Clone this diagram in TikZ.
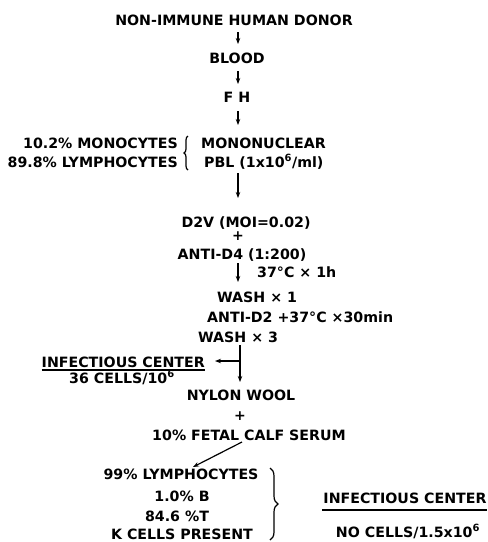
\documentclass[tikz,border=0pt]{standalone}
\usepackage{fontspec}
\setmainfont{DejaVu Sans}
\usetikzlibrary{arrows.meta,decorations.pathreplacing}
\tikzset{
  txt/.style={font=\fontsize{14.2}{16}\selectfont\bfseries, inner sep=0pt, anchor=base},
  pls/.style={font=\fontsize{14}{14}\selectfont\bfseries, inner sep=0pt, anchor=center},
  arr/.style={-{Stealth[length=6pt,width=4.5pt]}, line width=1.2pt},
  ln/.style={line width=1.2pt},
  brc/.style={decorate, line width=1.2pt, decoration={brace, amplitude=#1}}
}
\newcommand{\sxp}[1]{\textsuperscript{#1}}
\begin{document}
\begin{tikzpicture}[x=1pt,y=-1pt]
\useasboundingbox (0,0) rectangle (488,542);
\node[txt] (donor) at (234,25) {NON-IMMUNE HUMAN DONOR};
\node[txt] (blood) at (237,63) {BLOOD};
\node[txt] (fh) at (237,102) {F H};
\node[txt, anchor=base east] (mono) at (178,148) {10.2\% MONOCYTES};
\node[txt, anchor=base east] (lymph) at (178,167) {89.8\% LYMPHOCYTES};
\node[txt, anchor=base west] (mnuc) at (201,148) {MONONUCLEAR};
\node[txt, anchor=base west] (pbl) at (204,167) {PBL (1x10\sxp{6}/ml)};
\node[txt] (d2v) at (246,227) {D2V (MOI=0.02)};
\node[pls] (plus1) at (238,236.5) {+};
\node[txt] (antid4) at (242,259) {ANTI-D4 (1:200)};
\node[txt, anchor=base west] (inc) at (257,277) {37°C × 1h};
\node[txt, anchor=base west] (wash1) at (217,302) {WASH × 1};
\node[txt, anchor=base west] (antid2) at (207,322) {ANTI-D2 +37°C ×30min};
\node[txt, anchor=base west] (wash3) at (198,342) {WASH × 3};
\node[txt, anchor=base east] (ic1) at (205,367) {INFECTIOUS CENTER};
\node[txt] (cells1) at (122,383) {36 CELLS/10\sxp{6}};
\node[txt] (nylon) at (241,400) {NYLON WOOL};
\node[pls] (plus2) at (240,416) {+};
\node[txt] (fcs) at (249,440) {10\% FETAL CALF SERUM};
\node[txt] (l99) at (181,479) {99\% LYMPHOCYTES};
\node[txt] (b1) at (182,501) {1.0\% B};
\node[txt] (t84) at (177,521) {84.6 \%T};
\node[txt] (kc) at (182,539.5) {K CELLS PRESENT};
\node[txt] (ic2) at (405,503) {INFECTIOUS CENTER};
\node[txt] (cells2) at (408,537) {NO CELLS/1.5x10\sxp{6}};
% arrows
\coordinate (a1a) at (238,32); \coordinate (a1b) at (238,44);
\coordinate (a2a) at (238,71); \coordinate (a2b) at (238,84);
\coordinate (a3a) at (238,111); \coordinate (a3b) at (238,125);
\coordinate (a4a) at (238,173); \coordinate (a4b) at (238,198);
\coordinate (a5a) at (238,263); \coordinate (a5b) at (238,282);
\coordinate (a6a) at (240,345); \coordinate (a6b) at (240,382);
\coordinate (a6m) at (240,361); \coordinate (a6l) at (215,361);
\coordinate (a7a) at (242,442); \coordinate (a7b) at (193,467);
\draw[arr] (a1a) -- (a1b);
\draw[arr] (a2a) -- (a2b);
\draw[arr] (a3a) -- (a3b);
\draw[arr] (a4a) -- (a4b);
\draw[arr] (a5a) -- (a5b);
\draw[arr] (a6a) -- (a6b);
\draw[arr] (a6m) -- (a6l);
\draw[arr] (a7a) -- (a7b);
% underlines
\draw[ln] ([yshift=-3pt]ic1.base west) -- ([yshift=-3pt]ic1.base east);
\draw[ln] (322,510) -- (487,510);
% braces
\draw[brc=4pt] (188,170) -- (188,136);
\draw[brc=8pt] (270,468) -- (270,540);
\end{tikzpicture}
\end{document}
